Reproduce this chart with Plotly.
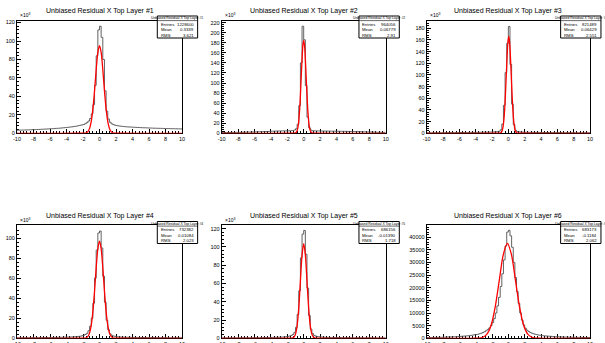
import numpy as np
import plotly.graph_objects as go

W, H = 605, 343

# ---------------- data ----------------
bin_lo, bin_hi, n_bins = -10.0, 10.0, 100

titles = ["Unbiased Residual X Top Layer #1", "Unbiased Residual X Top Layer #2",
          "Unbiased Residual X Top Layer #3", "Unbiased Residual X Top Layer #4",
          "Unbiased Residual X Top Layer #5", "Unbiased Residual X Top Layer #6"]
entries = ["1228600", "964056", "821489", "732382", "686156", "683173"]
means = ["0.3339", "0.06779", "0.06429", "0.01084", "-0.01390", "-0.1184"]
rmss = ["3.621", "2.91", "2.551", "2.023", "1.718", "2.062"]

# bin contents (thousands of entries), bins of width 0.2 from -10 to 10
hist1 = [3.4, 3.4, 3.5, 3.5, 3.6, 3.6, 3.7, 3.7, 3.8, 3.9,
         3.9, 4.0, 4.1, 4.2, 4.3, 4.4, 4.5, 4.6, 4.7, 4.8,
         4.9, 5.0, 5.1, 5.3, 5.4, 5.5, 5.7, 5.8, 6.0, 6.2,
         6.4, 6.6, 6.8, 7.0, 7.3, 7.6, 7.9, 8.3, 8.7, 9.1,
         9.5, 10.4, 11.6, 13.3, 16.0, 21.0, 31.0, 52.0, 84.0, 112.0,
         116.0, 104.0, 80.0, 46.0, 24.0, 15.5, 12.0, 10.3, 9.4, 8.8,
         8.4, 8.1, 7.8, 7.6, 7.4, 7.2, 7.0, 6.9, 6.8, 6.7,
         6.6, 6.5, 6.4, 6.3, 6.2, 6.1, 6.0, 6.0, 5.9, 5.8,
         5.7, 5.7, 5.6, 5.5, 5.5, 5.4, 5.4, 5.3, 5.3, 5.2,
         5.2, 5.1, 5.1, 5.0, 5.0, 4.9, 4.9, 4.8, 4.8, 4.7]
hist2 = [1.5, 1.5, 1.6, 1.6, 1.7, 1.7, 1.8, 1.8, 1.9, 1.9,
         2.0, 2.0, 2.1, 2.2, 2.2, 2.3, 2.4, 2.5, 2.6, 2.7,
         2.8, 2.9, 3.0, 3.1, 3.2, 3.3, 3.4, 3.5, 3.6, 3.8,
         4.0, 4.2, 4.4, 4.5, 4.6, 4.7, 4.7, 4.8, 4.8, 4.8,
         4.9, 5.0, 5.2, 5.6, 6.5, 9.0, 18.0, 55.0, 140.0, 213.0,
         186.0, 95.0, 32.0, 11.0, 6.5, 5.2, 4.9, 4.8, 4.7, 4.6,
         4.6, 4.5, 4.5, 4.4, 4.4, 4.3, 4.3, 4.2, 4.2, 4.1,
         4.1, 4.0, 4.0, 3.9, 3.9, 3.8, 3.8, 3.7, 3.6, 3.6,
         3.5, 3.4, 3.4, 3.3, 3.2, 3.1, 3.0, 2.9, 2.8, 2.7,
         2.6, 2.5, 2.4, 2.3, 2.2, 2.1, 2.0, 2.0, 1.9, 1.9]
hist3 = [0.8, 0.8, 0.8, 0.9, 0.9, 0.9, 0.9, 1.0, 1.0, 1.0,
         1.0, 1.0, 1.1, 1.1, 1.1, 1.1, 1.2, 1.2, 1.2, 1.2,
         1.3, 1.3, 1.3, 1.4, 1.4, 1.4, 1.5, 1.5, 1.5, 1.6,
         1.6, 1.7, 1.7, 1.8, 1.8, 1.9, 1.9, 2.0, 2.1, 2.2,
         2.3, 2.4, 2.6, 2.9, 3.5, 6.0, 16.0, 48.0, 104.0, 154.0,
         183.0, 118.0, 50.0, 15.0, 5.0, 3.0, 2.5, 2.2, 2.0, 1.9,
         1.8, 1.8, 1.7, 1.7, 1.6, 1.6, 1.5, 1.5, 1.5, 1.4,
         1.4, 1.4, 1.3, 1.3, 1.3, 1.2, 1.2, 1.2, 1.2, 1.1,
         1.1, 1.1, 1.1, 1.0, 1.0, 1.0, 1.0, 1.0, 0.9, 0.9,
         0.9, 0.9, 0.9, 0.9, 0.8, 0.8, 0.8, 0.8, 0.8, 0.8]
hist4 = [0.5, 0.5, 0.5, 0.5, 0.5, 0.6, 0.6, 0.6, 0.6, 0.6,
         0.6, 0.6, 0.7, 0.7, 0.7, 0.7, 0.7, 0.8, 0.8, 0.8,
         0.8, 0.8, 0.9, 0.9, 0.9, 1.0, 1.0, 1.0, 1.1, 1.1,
         1.2, 1.2, 1.3, 1.4, 1.5, 1.6, 1.7, 1.9, 2.1, 2.5,
         3.0, 3.8, 5.0, 7.5, 12.0, 20.0, 35.0, 60.0, 88.0, 105.0,
         107.0, 90.0, 62.0, 36.0, 18.0, 8.5, 4.5, 3.0, 2.3, 1.9,
         1.6, 1.4, 1.3, 1.2, 1.1, 1.1, 1.0, 1.0, 1.0, 0.9,
         0.9, 0.9, 0.9, 0.8, 0.8, 0.8, 0.8, 0.8, 0.7, 0.7,
         0.7, 0.7, 0.7, 0.7, 0.6, 0.6, 0.6, 0.6, 0.6, 0.6,
         0.6, 0.6, 0.5, 0.5, 0.5, 0.5, 0.5, 0.5, 0.5, 0.5]
hist5 = [0.4, 0.4, 0.4, 0.4, 0.4, 0.4, 0.5, 0.5, 0.5, 0.5,
         0.5, 0.5, 0.5, 0.6, 0.6, 0.6, 0.6, 0.6, 0.6, 0.7,
         0.7, 0.7, 0.7, 0.7, 0.8, 0.8, 0.8, 0.8, 0.9, 0.9,
         0.9, 1.0, 1.0, 1.1, 1.1, 1.2, 1.3, 1.4, 1.6, 1.8,
         2.1, 2.5, 3.1, 4.2, 6.5, 12.0, 26.0, 52.0, 88.0, 114.0,
         118.0, 92.0, 55.0, 25.0, 10.0, 5.0, 3.2, 2.4, 2.0, 1.7,
         1.5, 1.3, 1.2, 1.1, 1.0, 1.0, 0.9, 0.9, 0.9, 0.8,
         0.8, 0.8, 0.8, 0.7, 0.7, 0.7, 0.7, 0.7, 0.6, 0.6,
         0.6, 0.6, 0.6, 0.6, 0.5, 0.5, 0.5, 0.5, 0.5, 0.5,
         0.5, 0.5, 0.5, 0.4, 0.4, 0.4, 0.4, 0.4, 0.4, 0.4]
hist6 = [0.3, 0.3, 0.3, 0.3, 0.35, 0.35, 0.35, 0.4, 0.4, 0.4,
         0.45, 0.45, 0.5, 0.5, 0.55, 0.55, 0.6, 0.6, 0.65, 0.7,
         0.75, 0.8, 0.85, 0.9, 0.95, 1.0, 1.1, 1.2, 1.3, 1.4,
         1.5, 1.6, 1.8, 2.0, 2.3, 2.6, 3.0, 3.5, 4.1, 5.0,
         6.2, 7.8, 10.0, 12.8, 16.2, 20.5, 25.5, 31.0, 36.5, 42.0,
         42.7, 40.5, 36.0, 30.0, 24.0, 18.5, 13.8, 10.0, 7.2, 5.3,
         4.0, 3.2, 2.7, 2.3, 2.0, 1.8, 1.6, 1.45, 1.3, 1.2,
         1.1, 1.0, 0.95, 0.9, 0.85, 0.8, 0.75, 0.7, 0.65, 0.6,
         0.58, 0.56, 0.54, 0.52, 0.5, 0.48, 0.46, 0.44, 0.42, 0.4,
         0.39, 0.38, 0.37, 0.36, 0.35, 0.34, 0.33, 0.32, 0.31, 0.3]

# gaussian fit curves, sampled (thousands)
fit1_x = [-10, -2.0, -1.8, -1.6, -1.4, -1.2, -1.0, -0.8, -0.6, -0.4, -0.2, 0.0,
          0.2, 0.4, 0.6, 0.8, 1.0, 1.2, 1.4, 1.6, 1.8, 2.0, 10]
fit1_y = [0, 0.03, 0.15, 0.57, 1.88, 5.33, 12.9, 26.4, 46.2, 69.0, 87.7, 95.0,
          87.7, 69.0, 46.2, 26.4, 12.9, 5.33, 1.88, 0.57, 0.15, 0.03, 0]
fit2_x = [-10, -1.2, -1.1, -1.0, -0.9, -0.8, -0.7, -0.6, -0.5, -0.4, -0.3, -0.2, -0.1, 0.0,
          0.1, 0.2, 0.3, 0.4, 0.5, 0.6, 0.7, 0.8, 0.9, 1.0, 1.1, 1.2, 10]
fit2_y = [0, 0.06, 0.22, 0.72, 2.05, 5.27, 12.2, 25.0, 46.1, 76.0, 112.3, 148.2, 175.0, 185.0,
          175.0, 148.2, 112.3, 76.0, 46.1, 25.0, 12.2, 5.27, 2.05, 0.72, 0.22, 0.06, 0]
fit3_x = [-10, -1.15, -1.05, -0.95, -0.85, -0.75, -0.65, -0.55, -0.45, -0.35, -0.25, -0.15, -0.05, 0.05,
          0.15, 0.25, 0.35, 0.45, 0.55, 0.65, 0.75, 0.85, 0.95, 1.05, 1.15, 1.25, 10]
fit3_y = [0, 0.05, 0.20, 0.65, 1.84, 4.73, 10.9, 22.4, 41.3, 68.2, 100.8, 133.0, 157.0, 166.0,
          157.0, 133.0, 100.8, 68.2, 41.3, 22.4, 10.9, 4.73, 1.84, 0.65, 0.20, 0.05, 0]
fit4_x = fit1_x
fit4_y = [0, 0.03, 0.15, 0.58, 1.92, 5.44, 13.1, 27.0, 47.2, 70.4, 89.5, 97.0,
          89.5, 70.4, 47.2, 27.0, 13.1, 5.44, 1.92, 0.58, 0.15, 0.03, 0]
fit5_x = [-10, -1.6, -1.4, -1.2, -1.0, -0.8, -0.6, -0.4, -0.2, 0.0,
          0.2, 0.4, 0.6, 0.8, 1.0, 1.2, 1.4, 1.6, 10]
fit5_y = [0, 0.035, 0.23, 1.15, 4.55, 14.0, 33.6, 62.8, 91.3, 103.5,
          91.3, 62.8, 33.6, 14.0, 4.55, 1.15, 0.23, 0.035, 0]
fit6_x = [-10, -4.62, -4.12, -3.62, -3.12, -2.62, -2.12, -1.62, -1.12, -0.62, -0.12,
          0.38, 0.88, 1.38, 1.88, 2.38, 2.88, 3.38, 3.88, 4.38, 10]
fit6_y = [0, 0.0015, 0.013, 0.082, 0.42, 1.65, 5.07, 12.2, 22.7, 33.1, 37.5,
          33.1, 22.7, 12.2, 5.07, 1.65, 0.42, 0.082, 0.013, 0.0015, 0]

y_unit = [1, 1, 1, 1, 1, 1000]          # panel 6 drawn in plain counts
y_max = [122, 224, 193, 113, 124, 44800]
y_major = [20, 20, 20, 20, 20, 5000]
x_tick_vals = [-10, -8, -6, -4, -2, 0, 2, 4, 6, 8, 10]
x_tick_text = ["-10", "-8", "-6", "-4", "-2", "0", "2", "4", "6", "8", "10"]

hists = [hist1, hist2, hist3, hist4, hist5, hist6]
fits = [(fit1_x, fit1_y), (fit2_x, fit2_y), (fit3_x, fit3_y),
        (fit4_x, fit4_y), (fit5_x, fit5_y), (fit6_x, fit6_y)]

# ---------------- layout geometry (pixels) ----------------
col_x = [(17.0, 182.0), (221.7, 385.7), (426.7, 590.0)]
row_y = [(20.7, 133.3), (225.0, 338.3)]
pad_w = W / 3.0
title_y = [11.0, 216.0]
box_top = [16.0, 221.5]

FONT = "Liberation Sans"
edges = np.linspace(bin_lo, bin_hi, n_bins + 1)

fig = go.Figure()
layout = dict(width=W, height=H, margin=dict(l=0, r=0, t=0, b=0, autoexpand=False),
              paper_bgcolor="white", plot_bgcolor="white", showlegend=False,
              font=dict(family=FONT, size=5, color="black"))
annotations = []
shapes = []


def px(xp):
    return xp / W


def py(yp):
    return 1 - yp / H


for i in range(6):
    r, c = divmod(i, 3)
    sfx = "" if i == 0 else str(i + 1)
    x0, x1 = col_x[c]
    yt, yb = row_y[r]
    layout["xaxis" + sfx] = dict(
        domain=[px(x0), px(x1)], anchor="y" + sfx, range=[bin_lo, bin_hi], automargin=False,
        tickvals=x_tick_vals, ticktext=x_tick_text, ticks="inside", ticklen=4,
        tickcolor="black", tickwidth=1, showgrid=False, zeroline=False,
        showline=True, linecolor="black", linewidth=1, mirror=True,
        tickfont=dict(family=FONT, size=5.5, color="black"),
        minor=dict(dtick=0.4, ticks="inside", ticklen=2, tickcolor="black", showgrid=False),
        layer="below traces")
    layout["yaxis" + sfx] = dict(
        domain=[py(yb), py(yt)], anchor="x" + sfx, range=[0, y_max[i]], automargin=False,
        dtick=y_major[i], tick0=0, tickformat="d", ticks="inside", ticklen=4, tickcolor="black",
        tickwidth=1, showgrid=False, zeroline=False, showline=True,
        linecolor="black", linewidth=1, mirror=True,
        tickfont=dict(family=FONT, size=5.5, color="black"),
        minor=dict(dtick=y_major[i] / 5, ticks="inside", ticklen=2, tickcolor="black", showgrid=False),
        layer="below traces")

    vals = [v * y_unit[i] for v in hists[i]]
    fig.add_trace(go.Scatter(x=edges, y=vals + [vals[-1]], mode="lines",
                             line=dict(color="#505050", width=0.9, shape="hv"),
                             xaxis="x" + sfx, yaxis="y" + sfx, hoverinfo="skip"))
    fx, fy = fits[i]
    fig.add_trace(go.Scatter(x=fx, y=[v * y_unit[i] for v in fy], mode="lines",
                             line=dict(color="#ff0000", width=1.3, shape="spline", smoothing=0.8),
                             xaxis="x" + sfx, yaxis="y" + sfx, hoverinfo="skip"))

    # title
    annotations.append(dict(x=px((x0 + x1) / 2), y=py(title_y[r]), xref="paper", yref="paper",
                            text=titles[i], showarrow=False, xanchor="center", yanchor="middle",
                            font=dict(family=FONT, size=7, color="black")))
    # exponent label
    if y_unit[i] == 1:
        annotations.append(dict(x=px(x0 + 1), y=py(yt - 0.5), xref="paper", yref="paper",
                                text="\u00d710<sup>3</sup>", showarrow=False, xanchor="left",
                                yanchor="bottom", font=dict(family=FONT, size=5, color="black")))
    # stats box
    bx0 = c * pad_w + 0.78 * pad_w
    bx1 = c * pad_w + 0.98 * pad_w
    bt = box_top[r]
    bb = bt + 22.0
    shapes.append(dict(type="rect", xref="paper", yref="paper", x0=px(bx0), x1=px(bx1),
                       y0=py(bb), y1=py(bt), line=dict(color="black", width=1), fillcolor="white",
                       layer="above"))
    shapes.append(dict(type="line", xref="paper", yref="paper", x0=px(bx0), x1=px(bx1),
                       y0=py(bt + 4.6), y1=py(bt + 4.6), line=dict(color="black", width=0.6),
                       layer="above"))
    annotations.append(dict(x=px((bx0 + bx1) / 2), y=py(bt + 2.3), xref="paper", yref="paper",
                            text=titles[i], showarrow=False, xanchor="center", yanchor="middle",
                            font=dict(family=FONT, size=3.4, color="black")))
    rows = [("Entries", entries[i]), ("Mean", means[i]), ("RMS", rmss[i])]
    for k, (lab, val) in enumerate(rows):
        yy = bt + 8.3 + k * 5.5
        annotations.append(dict(x=px(bx0 + 1.5), y=py(yy), xref="paper", yref="paper",
                                text=lab, showarrow=False, xanchor="left", yanchor="middle",
                                font=dict(family=FONT, size=4.3, color="black")))
        annotations.append(dict(x=px(bx1 - 1.5), y=py(yy), xref="paper", yref="paper",
                                text=val, showarrow=False, xanchor="right", yanchor="middle",
                                font=dict(family=FONT, size=4.3, color="black")))

layout["annotations"] = annotations
layout["shapes"] = shapes
fig.update_layout(**layout)
fig.write_html("out.html", config={"displayModeBar": False, "staticPlot": True},
               post_script="document.body.style.margin='0';document.body.style.overflow='hidden';")
